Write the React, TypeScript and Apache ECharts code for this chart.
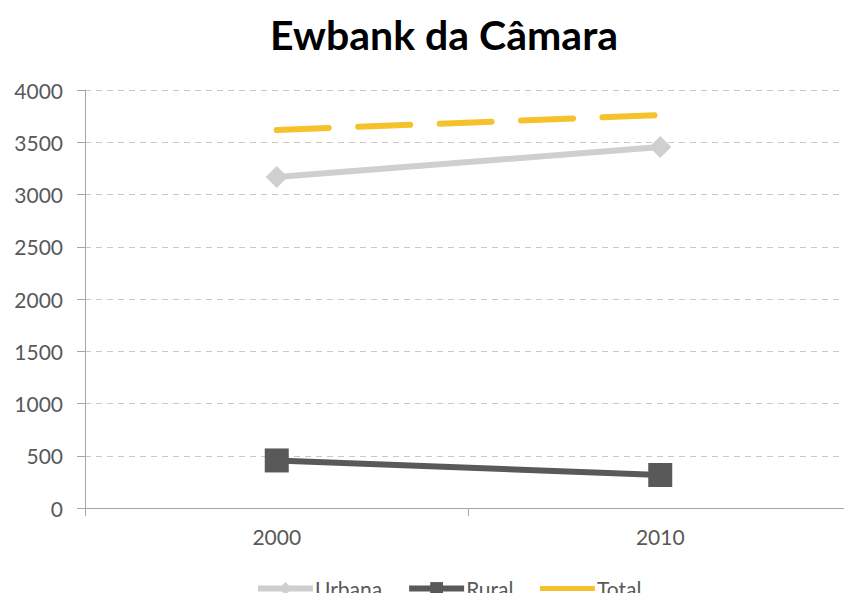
import React, { useEffect, useRef } from "react";
import * as echarts from "echarts";

const title = "Ewbank da Câmara";
const categories = ["2000", "2010"];
const urbana = [3167, 3455];
const rural = [455, 316];
const total = [3617, 3760];
const seriesNames = ["Urbana", "Rural", "Total"];

const FONT = "Lato, 'Open Sans', sans-serif";

export default function App() {
  const ref = useRef<HTMLDivElement>(null);
  useEffect(() => {
    if (!ref.current) return;
    const chart = echarts.init(ref.current, undefined, { renderer: "svg" });
    chart.setOption({
      animation: false,
      backgroundColor: "#ffffff",
      title: {
        text: title,
        left: 265,
        top: 9,
        textStyle: { fontFamily: FONT, fontWeight: "bold", fontSize: 41, color: "#000000" },
      },
      grid: { left: 85, right: 0, top: 90, bottom: 93, containLabel: false },
      legend: {
        top: 573,
        left: 250,
        itemWidth: 55,
        itemHeight: 16,
        itemGap: 24,
        lineStyle: { width: 6 },
        textStyle: { fontFamily: FONT, fontSize: 21, color: "#595959", padding: [0, 0, 0, -3] },
        data: [
          { name: seriesNames[0] },
          { name: seriesNames[1] },
          { name: seriesNames[2], lineStyle: { type: "solid", cap: "butt", width: 5 }, itemStyle: { opacity: 0 } },
        ],
      },
      xAxis: {
        type: "category",
        data: categories,
        boundaryGap: true,
        axisLine: { lineStyle: { color: "#A6A6A6", width: 1 } },
        axisTick: { show: true, length: 8, lineStyle: { color: "#A6A6A6" } },
        axisLabel: { fontFamily: FONT, fontSize: 21, color: "#595959", margin: 18 },
      },
      yAxis: {
        type: "value",
        min: 0,
        max: 4000,
        interval: 500,
        axisLine: { show: true, lineStyle: { color: "#A6A6A6", width: 1 } },
        axisTick: { show: true, length: 8, lineStyle: { color: "#A6A6A6" } },
        axisLabel: {
          fontFamily: FONT,
          fontSize: 21,
          color: "#595959",
          margin: 22,
          formatter: (v: number) => String(v),
        },
        splitLine: { show: true, lineStyle: { color: "#C8C8C8", type: [6, 5], width: 1 } },
      },
      series: [
        {
          name: seriesNames[0],
          type: "line",
          data: urbana,
          symbol: "diamond",
          symbolSize: 22,
          itemStyle: { color: "#D0CECE" },
          lineStyle: { color: "#D0CECE", width: 6 },
          z: 3,
        },
        {
          name: seriesNames[1],
          type: "line",
          data: rural,
          symbol: "rect",
          symbolSize: 24,
          itemStyle: { color: "#595959" },
          lineStyle: { color: "#595959", width: 6 },
          z: 3,
        },
        {
          name: seriesNames[2],
          type: "line",
          data: total,
          symbol: "none",
          itemStyle: { color: "#F5C22B" },
          lineStyle: { color: "#F5C22B", width: 6, type: [52, 29.5], cap: "round" },
          z: 2,
        },
      ],
    });
    return () => chart.dispose();
  }, []);
  return <div ref={ref} style={{ width: 852, height: 601, margin: -8 }} />;
}
